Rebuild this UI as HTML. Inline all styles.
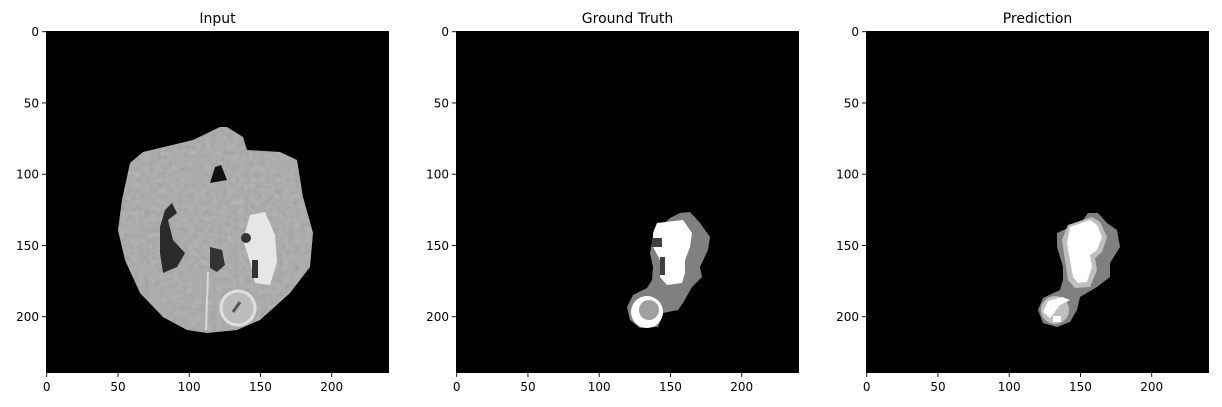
<!DOCTYPE html>
<html><head><meta charset="utf-8"><style>
body{margin:0;background:#fff;}
svg{display:block;font-family:"DejaVu Sans","Liberation Sans",sans-serif;}
</style></head><body>
<svg id="fig" width="1222" height="407">
<defs>
<filter id="tex"><feTurbulence type="fractalNoise" baseFrequency="0.18" numOctaves="2" seed="3"/><feColorMatrix type="saturate" values="0"/><feComponentTransfer><feFuncA type="table" tableValues="0 0.35"/></feComponentTransfer><feComposite in2="SourceGraphic" operator="in"/></filter>
<clipPath id="brainclip"><polygon points="220,127 193,140 143,152 130,163 122,200 118,230 125,260 140,293 163,317 187,330 207,333 237,330 260,320 290,293 310,267 313,233 303,197 297,160 280,152 247,150 243,137 227,127"/></clipPath>
</defs>
<g id="panels"></g>
<g>
<polygon fill="#a8a8a8" points="220,127 193,140 143,152 130,163 122,200 118,230 125,260 140,293 163,317 187,330 207,333 237,330 260,320 290,293 310,267 313,233 303,197 297,160 280,152 247,150 243,137 227,127"/>
<g clip-path="url(#brainclip)"><rect x="110" y="120" width="210" height="220" fill="#000" filter="url(#tex)"/></g>
<polygon fill="#2a2a2a" points="172,203 177,213 168,220 173,240 185,253 177,267 163,273 160,253 160,227 165,210"/>
<polygon fill="#333" points="210,247 222,250 225,265 217,272 210,268"/>
<polygon fill="#111" points="215,167 221,165 227,180 210,183"/>
<polygon fill="#e6e6e6" points="250,215 265,212 275,235 277,262 270,285 255,283 250,262 243,240"/>
<rect x="252" y="260" width="6" height="18" fill="#333"/>
<circle cx="246" cy="238" r="5" fill="#333"/>
<circle cx="238" cy="308" r="17" fill="#bdbdbd" stroke="#e0e0e0" stroke-width="3"/>
<line x1="233" y1="312" x2="240" y2="302" stroke="#555" stroke-width="3"/>
<line x1="208" y1="272" x2="206" y2="330" stroke="#d8d8d8" stroke-width="2"/>
</g>
<g>
<polygon fill="#808080" points="680,213 690,212 700,223 710,237 708,250 700,267 702,277 692,287 683,303 678,310 663,313 658,327 640,328 630,320 627,307 633,295 647,288 652,280 653,267 650,253 653,237 660,227 670,218"/>
<polygon fill="#fff" points="657,223 683,220 692,233 690,247 685,260 685,273 682,283 667,285 660,277 660,260 653,247 653,233"/>
<rect x="652" y="238" width="10" height="9" fill="#404040"/>
<rect x="660" y="257" width="5" height="18" fill="#404040"/>
<circle cx="647" cy="312" r="16" fill="#fff"/>
<circle cx="649" cy="310" r="10" fill="#a0a0a0"/>
</g>
<g>
<polygon fill="#808080" points="1088,213 1098,213 1107,223 1117,230 1120,247 1110,263 1110,277 1097,287 1080,297 1077,310 1070,322 1057,327 1043,323 1038,310 1043,298 1060,290 1063,280 1063,267 1057,247 1057,233 1070,227 1083,220"/>
<polygon fill="#bfbfbf" points="1068,225 1092,217 1100,222 1107,237 1102,252 1095,258 1097,270 1090,287 1075,288 1068,280 1065,260 1062,240"/>
<polygon fill="#fff" points="1070,227 1090,220 1097,225 1102,237 1097,250 1090,255 1092,267 1087,282 1078,283 1073,277 1070,260 1067,243"/>
<circle cx="1055" cy="310" r="14" fill="#bfbfbf"/>
<polygon fill="#fff" points="1043,312 1048,301 1062,297 1070,300 1060,305 1050,318"/>
<rect x="1053" y="316" width="8" height="6" fill="#fff"/>
</g>
</svg>
<script>
const titles = ["Input", "Ground Truth", "Prediction"];
const xTicks = [0, 50, 100, 150, 200];
const yTicks = [0, 50, 100, 150, 200];
const NS = "http://www.w3.org/2000/svg";
const panelX = [46, 456, 866], top0 = 31, W = 343, H = 342, scale = 342/240;
const g = document.getElementById('panels');
function el(t, a){const e=document.createElementNS(NS,t);for(const k in a)e.setAttribute(k,a[k]);return e;}
titles.forEach((t,i)=>{
  const x0 = panelX[i];
  const bg = el('rect',{x:x0,y:top0,width:W,height:H,fill:'#000'});
  
  
  g.appendChild(bg);
  const tt = el('text',{x:x0+W/2,y:23,'text-anchor':'middle','font-size':14,fill:'#000'});
  tt.textContent = t;
  
  
  g.appendChild(tt);
  xTicks.forEach(v=>{
    const px = x0 + (v+0.5)*scale;
    const ln = el('line',{x1:px,x2:px,y1:top0+H,y2:top0+H+4,stroke:'#000','stroke-width':0.9});
    
    
    g.appendChild(ln);
    const lb = el('text',{x:px,y:top0+H+18,'text-anchor':'middle','font-size':12});
    lb.textContent = v;
    
    
    g.appendChild(lb);
  });
  yTicks.forEach(v=>{
    const py = top0 + (v+0.5)*scale;
    const ln = el('line',{x1:x0-4,x2:x0,y1:py,y2:py,stroke:'#000','stroke-width':0.9});
    
    
    g.appendChild(ln);
    const lb = el('text',{x:x0-7,y:py+4.5,'text-anchor':'end','font-size':12});
    lb.textContent = v;
    
    
    g.appendChild(lb);
  });
});
</script>
</body></html>
